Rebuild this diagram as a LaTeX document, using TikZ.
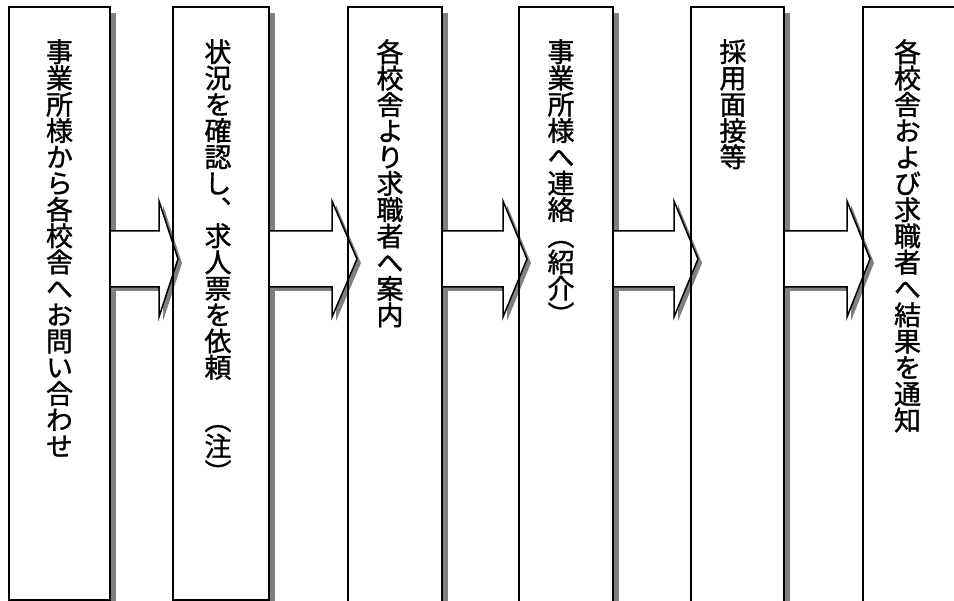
\documentclass[tikz,border=0pt]{standalone}
\usepackage{fontspec}
\newfontfamily\jp[RawFeature=+vert, FakeBold=1.2]{Noto Sans CJK JP}
\usetikzlibrary{calc,shadows}
\definecolor{shadowgray}{RGB}{128,128,128}
\tikzset{
  boxfill/.style={fill=white, draw=none, inner sep=0pt, outer sep=0pt, anchor=north west,
    general shadow={fill=shadowgray, shadow xshift=6pt, shadow yshift=-6pt}},
  boxline/.style={draw=black, line width=1.5pt},
  arrshadow/.style={fill=shadowgray, draw=none},
  arrbody/.style={fill=white, draw=black, line width=1.5pt, line join=miter},
  vtext/.style={font=\jp\fontsize{27pt}{26.3pt}\selectfont, align=center, inner sep=0pt, anchor=north}
}
% #1 from box, #2 to box, #3 offset (shadow), #4 tip overlap, #5 head length, #6 style
\newcommand\blockarrow[6]{%
  \path[#6] let \p1=(#1.east), \p2=(#2.west) in
    (\x1+#3pt,-231pt-#3pt) -- (\x2+#4pt-#5pt+#3pt,-231pt-#3pt) -- (\x2+#4pt-#5pt+#3pt,-201pt-#3pt)
    -- (\x2+#4pt+#3pt,-259pt-#3pt) -- (\x2+#4pt-#5pt+#3pt,-317pt-#3pt)
    -- (\x2+#4pt-#5pt+#3pt,-287pt-#3pt) -- (\x1+#3pt,-287pt-#3pt) -- cycle;}
\begin{document}
\begin{tikzpicture}[x=1pt,y=-1pt]
\useasboundingbox (0,0) rectangle (954,601);
\clip (0,0) rectangle (954,601);
\fill[white] (0,0) rectangle (954,601);
% boxes (fill + shadow)
\node[boxfill, minimum width=101pt, minimum height=593pt] (b1) at (9,7) {};
\node[boxfill, minimum width=96pt, minimum height=593pt] (b2) at (173,7) {};
\node[boxfill, minimum width=94pt, minimum height=603pt] (b3) at (348,7) {};
\node[boxfill, minimum width=94pt, minimum height=603pt] (b4) at (519,7) {};
\node[boxfill, minimum width=93pt, minimum height=603pt] (b5) at (691,7) {};
\node[boxfill, minimum width=92pt, minimum height=603pt] (b6) at (863,7) {};
% arrow shadows
\blockarrow{b1}{b2}{4}{5}{19}{arrshadow}
\blockarrow{b2}{b3}{4}{9}{25}{arrshadow}
\blockarrow{b3}{b4}{4}{8}{24}{arrshadow}
\blockarrow{b4}{b5}{4}{7}{24}{arrshadow}
\blockarrow{b5}{b6}{4}{7}{23}{arrshadow}
% arrow bodies
\blockarrow{b1}{b2}{0}{5}{19}{arrbody}
\blockarrow{b2}{b3}{0}{9}{25}{arrbody}
\blockarrow{b3}{b4}{0}{8}{24}{arrbody}
\blockarrow{b4}{b5}{0}{7}{24}{arrbody}
\blockarrow{b5}{b6}{0}{7}{23}{arrbody}
% box outlines
\foreach \b in {b1,b2,b3,b4,b5,b6}{
  \draw[boxline] (\b.north west) rectangle (\b.south east);
}
% texts
\node[vtext] (t1) at (59.5,39) {事\\業\\所\\様\\か\\ら\\各\\校\\舎\\へ\\お\\問\\い\\合\\わ\\せ};
\node[vtext] (t2) at (218,39) {状\\況\\を\\確\\認\\し\\、\\求\\人\\票\\を\\依\\頼\\　\\（\\注\\）};
\node[vtext] (t3) at (390,39) {各\\校\\舎\\よ\\り\\求\\職\\者\\へ\\案\\内};
\node[vtext] (t4) at (561,39) {事\\業\\所\\様\\へ\\連\\絡\\（\\紹\\介\\）};
\node[vtext] (t5) at (733,39) {採\\用\\面\\接\\等};
\node[vtext] (t6) at (907.5,39) {各\\校\\舎\\お\\よ\\び\\求\\職\\者\\へ\\結\\果\\を\\通\\知};
\end{tikzpicture}
\end{document}
